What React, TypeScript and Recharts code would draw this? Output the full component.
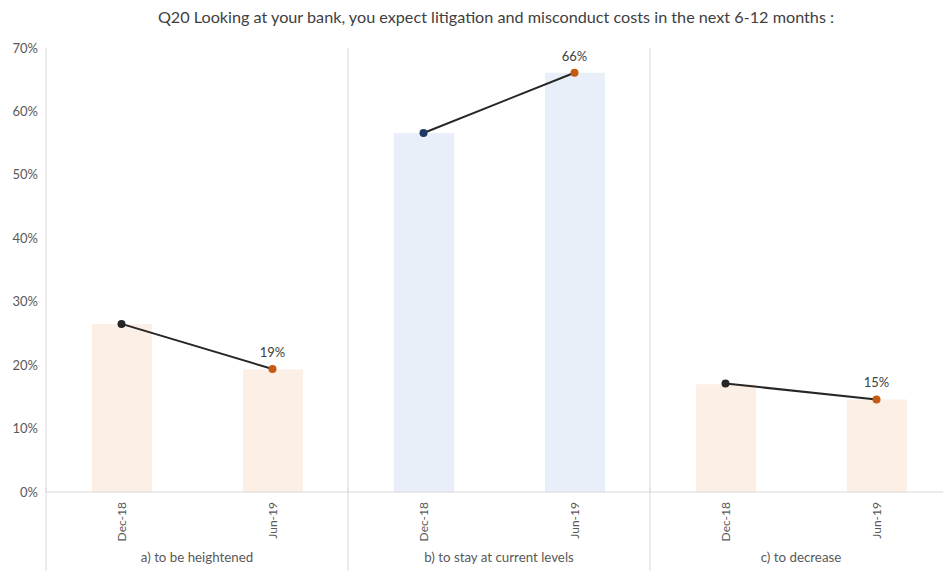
import React from 'react';
import {
  ComposedChart,
  Bar,
  Line,
  Cell,
  XAxis,
  YAxis,
  ReferenceLine,
} from 'recharts';

const title = 'Q20 Looking at your bank, you expect litigation and misconduct costs in the next 6-12 months :';
const categories = ['Dec-18', 'Jun-19', 'Dec-18', 'Jun-19', 'Dec-18', 'Jun-19'];
const groups = ['a) to be heightened', 'b) to stay at current levels', 'c) to decrease'];
const barValues = [26.5, 19.3, 56.6, 66.1, 17.0, 14.6];
const lineValues = [26.5, 19.4, 56.6, 66.1, 17.1, 14.6];
const yTicks = [0, 10, 20, 30, 40, 50, 60, 70];
const groupStarts = [0, 1, 2];
const groupMids = [0.5, 1.5, 2.5];

const barColors = ['#FCEFE6', '#E8EFF8', '#FCEFE6'];
const firstDotColors = ['#262626', '#1F3864', '#262626'];
const lastDotColor = '#C55A11';
const lineKeys = ['lineA', 'lineB', 'lineC'];

const data = categories.map((cat, i) => {
  const g = Math.floor(i / 2);
  const row: any = { cat, idx: i, gpos: g + 0.5, bar: barValues[i] };
  lineKeys.forEach((k, j) => {
    row[k] = j === g ? lineValues[i] : null;
  });
  return row;
});

const FONT = 'Lato, "Liberation Sans", sans-serif';

const makeDot = (g: number) => (props: any) => {
  const { cx, cy, index, value } = props;
  if (value == null || cy == null) return <g key={`d-${g}-${index}`} />;
  const fill = index % 2 === 0 ? firstDotColors[g] : lastDotColor;
  return <circle key={`d-${g}-${index}`} cx={cx} cy={cy} r={4} fill={fill} stroke="none" />;
};

const makeLabel = (props: any) => {
  const { x, y, index, value } = props;
  if (value == null || index % 2 === 0) return <g key={`l-${index}`} />;
  return (
    <text
      key={`l-${index}`}
      x={x}
      y={y - 12}
      textAnchor="middle"
      fontSize={13}
      fill="#404040"
      fontFamily={FONT}
    >
      {`${Math.round(value)}%`}
    </text>
  );
};

const CatTick = (props: any) => {
  const { x, y, payload } = props;
  return (
    <text
      transform={`translate(${x + 4},${y + 2}) rotate(-90)`}
      textAnchor="end"
      fontSize={12}
      fill="#595959"
      fontFamily={FONT}
    >
      {categories[payload.value]}
    </text>
  );
};

// sep axis sits at the very bottom, so draw its lines upward to the plot bottom
const SepTick = (props: any) => {
  const { x, y } = props;
  return <line x1={x} x2={x} y1={y - 82} y2={y + 10} stroke="#D9D9D9" strokeWidth={1} />;
};

const GroupTick = (props: any) => {
  const { x, y, payload } = props;
  return (
    <text x={x} y={y + 8} textAnchor="middle" fontSize={13.3} fill="#595959" fontFamily={FONT}>
      {groups[Math.floor(payload.value)]}
    </text>
  );
};

export default function App() {
  return (
    <div
      style={{
        position: 'absolute',
        left: 0,
        top: 0,
        width: 943,
        height: 571,
        overflow: 'hidden',
        background: '#fff',
      }}
    >
      <div
        style={{
          position: 'absolute',
          left: 0,
          width: 992,
          top: 7,
          textAlign: 'center',
          fontFamily: FONT,
          fontSize: 16.2,
          color: '#404040',
        }}
      >
        {title}
      </div>
      <ComposedChart
        width={960}
        height={571}
        data={data}
        margin={{ top: 48, right: 8, bottom: 0, left: 6 }}
      >
        <XAxis
          xAxisId="sep"
          dataKey="gpos"
          type="number"
          domain={[0, 3]}
          allowDataOverflow
          ticks={groupStarts}
          height={1}
          tickSize={0}
          tickMargin={0}
          axisLine={false}
          tickLine={false}
          tick={SepTick}
        />
        <XAxis
          xAxisId="cat"
          dataKey="idx"
          type="category"
          height={54}
          tickLine={false}
          axisLine={{ stroke: '#D9D9D9' }}
          tick={CatTick}
          interval={0}
        />
        <XAxis
          xAxisId="grp"
          dataKey="gpos"
          type="number"
          domain={[0, 3]}
          allowDataOverflow
          ticks={groupMids}
          height={24}
          tickLine={false}
          axisLine={false}
          tick={GroupTick}
        />
        <YAxis
          domain={[0, 70]}
          ticks={yTicks}
          width={40}
          tickLine={false}
          axisLine={{ stroke: '#D9D9D9' }}
          tick={{ fontSize: 13, fill: '#595959', fontFamily: FONT }}
          tickFormatter={(v) => `${v}%`}
        />
        <ReferenceLine xAxisId="sep" x={1} stroke="#D9D9D9" />
        <ReferenceLine xAxisId="sep" x={2} stroke="#D9D9D9" />
        <Bar xAxisId="cat" dataKey="bar" barSize={60} isAnimationActive={false}>
          {data.map((d, i) => (
            <Cell key={`c-${i}`} fill={barColors[Math.floor(i / 2)]} />
          ))}
        </Bar>
        {lineKeys.map((k, g) => (
          <Line
            key={k}
            xAxisId="cat"
            dataKey={k}
            stroke="#262626"
            strokeWidth={2}
            dot={makeDot(g)}
            activeDot={false}
            label={makeLabel}
            connectNulls={false}
            isAnimationActive={false}
          />
        ))}
      </ComposedChart>
    </div>
  );
}
